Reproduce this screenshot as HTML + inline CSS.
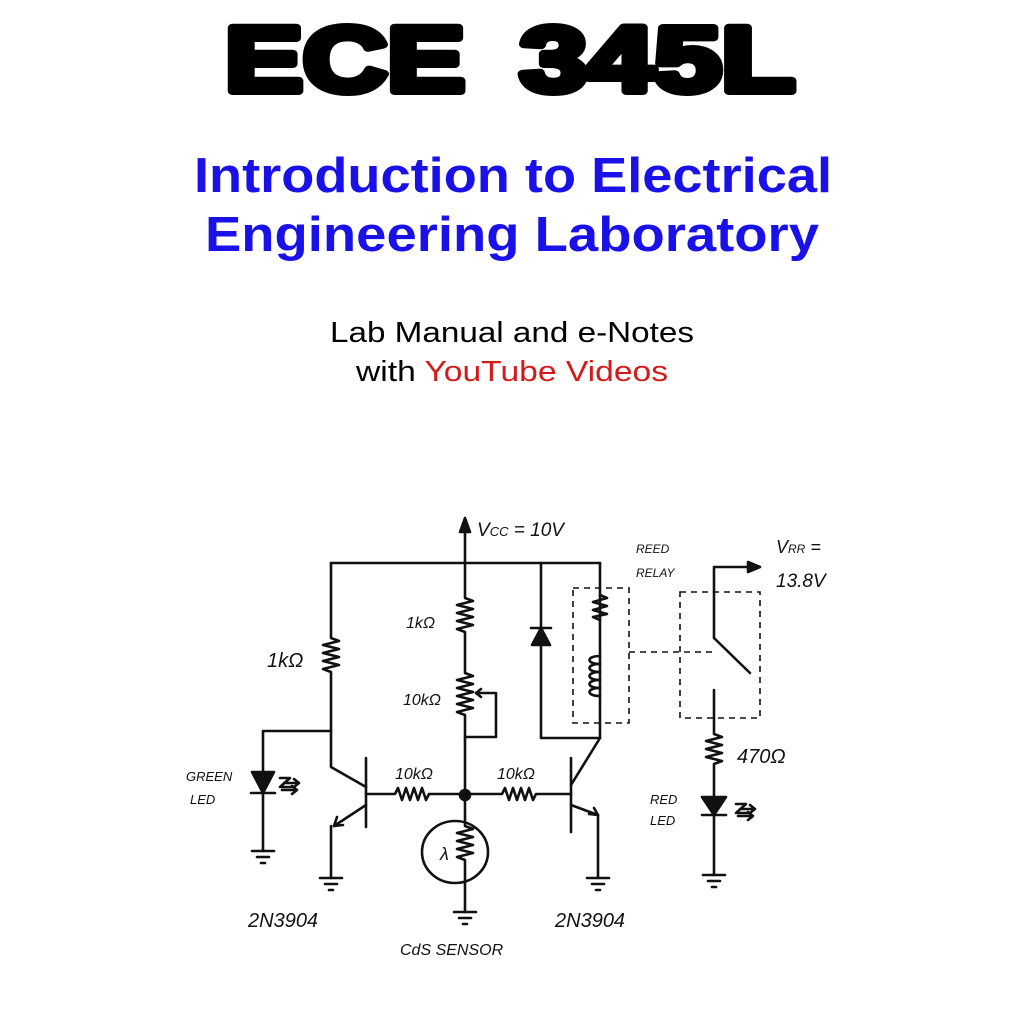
<!DOCTYPE html>
<html><head><meta charset="utf-8"><style>html,body{margin:0;padding:0;background:#fff;width:1024px;height:1019px;overflow:hidden}</style></head>
<body>
<svg width="1024" height="1019" viewBox="0 0 1024 1019" xmlns="http://www.w3.org/2000/svg">
<rect width="1024" height="1019" fill="#fff"/>
<!-- Title -->
<text x="225" y="91" font-family="Liberation Sans, sans-serif" font-weight="bold" font-size="92" fill="#000" stroke="#000" stroke-width="8" stroke-linejoin="round" textLength="240" lengthAdjust="spacingAndGlyphs">ECE</text>
<text x="520" y="91" font-family="Liberation Sans, sans-serif" font-weight="bold" font-size="92" fill="#000" stroke="#000" stroke-width="8" stroke-linejoin="round" textLength="275" lengthAdjust="spacingAndGlyphs">345L</text>
<text x="513" y="192" text-anchor="middle" font-family="Liberation Sans, sans-serif" font-weight="bold" font-size="49" fill="#1a10e8" textLength="638" lengthAdjust="spacingAndGlyphs">Introduction to Electrical</text>
<text x="512" y="251" text-anchor="middle" font-family="Liberation Sans, sans-serif" font-weight="bold" font-size="49" fill="#1a10e8" textLength="614" lengthAdjust="spacingAndGlyphs">Engineering Laboratory</text>
<text x="512" y="342" text-anchor="middle" font-family="Liberation Sans, sans-serif" font-size="29" fill="#000" textLength="364" lengthAdjust="spacingAndGlyphs">Lab Manual and e-Notes</text>
<text x="512" y="381" text-anchor="middle" font-family="Liberation Sans, sans-serif" font-size="29" fill="#000" textLength="312" lengthAdjust="spacingAndGlyphs">with <tspan fill="#d21c1c">YouTube Videos</tspan></text>

<g fill="none" stroke="#111" stroke-width="2.6" stroke-linecap="round" stroke-linejoin="round">
<!-- Vcc -->
<path d="M465 563 V522"/>
<path d="M460 532 L465 518 L470 532 Z" fill="#111"/>
<path d="M331 563 H600"/>
<!-- left branch -->
<path d="M331 563 V638 l8 3 -16 4 16 4 -16 4 16 4 -16 4 16 4 -16 4 8 3 V767 L366 787"/>
<path d="M331 731 H263 V772"/>
<path d="M252 772 H274 L263 793 Z" fill="#111"/>
<path d="M251 793 H275 M263 793 V851"/>
<path d="M252 851 H274 M257 857 H269 M261 863 H265"/>
<path d="M280 778 h10 l-10 9 h12 M284 783 h14 M282 790 h14 M294 779 l5 4 -5 4 M292 786 l5 4 -5 4"/>
<path d="M366 758 V827"/>
<path d="M366 805 L334 826"/>
<path d="M334 826 l3 -9 M334 826 l9 -1"/>
<path d="M331 826 V878"/>
<path d="M320 878 H342 M325 884 H337 M329 890 H333"/>
<!-- base line -->
<path d="M366 794 H395 l3 -6 4 12 4 -12 4 12 4 -12 4 12 4 -12 4 12 3 -6 H502 l3 -6 4 12 4 -12 4 12 4 -12 4 12 4 -12 4 12 3 -6 H571"/>
<!-- middle -->
<path d="M465 563 V598 l8 3 -16 4 16 4 -16 4 16 4 -16 4 16 4 -16 4 8 3 V673 l8 3 -16 4 16 4 -16 4 16 4 -16 4 16 4 -16 4 16 4 -16 4 8 3 V794"/>
<path d="M496 693 H476 M481 689 l-5 4 5 4 M496 693 V737 H465"/>
<circle cx="465" cy="795" r="5" fill="#111"/>
<path d="M465 795 V826 l8 3 -16 4 16 4 -16 4 16 4 -16 4 16 4 -16 4 8 3 V912"/>
<ellipse cx="455" cy="852" rx="33" ry="31"/>
<path d="M454 912 H476 M459 918 H471 M463 924 H467"/>
<!-- right -->
<path d="M571 758 V832"/>
<path d="M571 785 L600 738 V563"/>
<path d="M541 563 V738 H600"/>
<path d="M531 628 H551"/>
<path d="M532 645 H550 L541 628 Z" fill="#111"/>
<path d="M571 805 L598 815 V878"/>
<path d="M598 815 l-9 -1 M598 815 l-4 -7"/>
<path d="M587 878 H609 M592 884 H604 M596 890 H600"/>
<!-- relay coil -->
<path d="M600 595 l7 3 -14 4 14 4 -14 4 14 4 -14 3 7 3"/>
<path d="M600 656 c-14 0 -14 8 0 8 c-14 0 -14 8 0 8 c-14 0 -14 8 0 8 c-14 0 -14 8 0 8 c-14 0 -14 8 0 8"/>
<!-- switch -->
<path d="M714 638 V567 H754"/>
<path d="M748 562 L760 567 L748 572 Z" fill="#111"/>
<path d="M714 638 L750 673"/>
<path d="M714 690 V734 l8 3 -16 4 16 4 -16 4 16 4 -16 4 16 4 -8 3 V797"/>
<path d="M702 797 H726 L714 815 Z" fill="#111"/>
<path d="M702 815 H726 M714 815 V875"/>
<path d="M703 875 H725 M708 881 H720 M712 887 H716"/>
<path d="M736 804 h10 l-10 9 h12 M740 809 h14 M738 816 h14 M750 805 l5 4 -5 4 M748 812 l5 4 -5 4"/>
</g>
<g fill="none" stroke="#111" stroke-width="1.6" stroke-dasharray="6,5">
<rect x="573" y="588" width="56" height="135"/>
<rect x="680" y="592" width="80" height="126"/>
<path d="M629 652 H715"/>
</g>
<g font-family="Liberation Sans, sans-serif" font-style="italic" fill="#111">
<text x="477" y="536" font-size="19">V<tspan font-size="13">CC</tspan> = 10V</text>
<text x="636" y="553" font-size="12">REED</text>
<text x="636" y="577" font-size="12">RELAY</text>
<text x="776" y="553" font-size="18">V<tspan font-size="12">RR</tspan> =</text>
<text x="776" y="587" font-size="19">13.8V</text>
<text x="267" y="667" font-size="20">1kΩ</text>
<text x="406" y="628" font-size="16">1kΩ</text>
<text x="403" y="705" font-size="16">10kΩ</text>
<text x="395" y="779" font-size="16">10kΩ</text>
<text x="497" y="779" font-size="16">10kΩ</text>
<text x="737" y="763" font-size="20">470Ω</text>
<text x="186" y="781" font-size="13">GREEN</text>
<text x="190" y="804" font-size="13">LED</text>
<text x="650" y="804" font-size="13">RED</text>
<text x="650" y="825" font-size="13">LED</text>
<text x="440" y="860" font-size="18">λ</text>
<text x="248" y="927" font-size="20">2N3904</text>
<text x="555" y="927" font-size="20">2N3904</text>
<text x="400" y="955" font-size="16">CdS SENSOR</text>
</g>
</svg>
</body></html>
